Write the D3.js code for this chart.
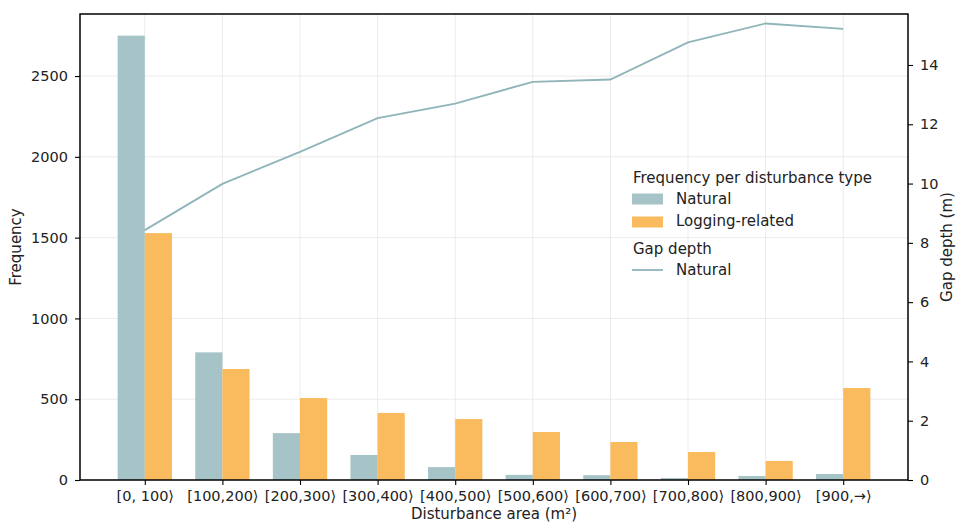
<!DOCTYPE html>
<html>
<head>
<meta charset="utf-8">
<script src="https://cdn.jsdelivr.net/npm/d3@7"></script>
<style>
  body { margin: 0; background: #fff; }
  svg text { font-family: "DejaVu Sans", sans-serif; fill: #222; }
</style>
</head>
<body>
<div id="chart"></div>
<script>
// area classes on the x axis
const categories = ["[0, 100⟩", "[100,200⟩", "[200,300⟩", "[300,400⟩", "[400,500⟩",
  "[500,600⟩", "[600,700⟩", "[700,800⟩", "[800,900⟩", "[900,→⟩"];
// frequency per disturbance type
const natural = [2750, 790, 290, 155, 80, 32, 30, 12, 25, 37];
const logging = [1528, 687, 507, 415, 377, 297, 235, 173, 118, 569];
// mean gap depth (m) of natural gaps
const gapDepth = [8.43, 9.99, 11.07, 12.21, 12.70, 13.43, 13.51, 14.76, 15.40, 15.22];
const freqTicks = [0, 500, 1000, 1500, 2000, 2500];
const depthTicks = [0, 2, 4, 6, 8, 10, 12, 14];

const W = 957, H = 523;
const margin = { top: 14, right: 49, bottom: 43, left: 80 };
const width = W - margin.left - margin.right;
const height = H - margin.top - margin.bottom;

const cNatural = "#a6c4c7", cLogging = "#f9bb5e", cLine = "#8fb5b9";
const fs = 15, tfs = 14.5;

const svg = d3.select("#chart").append("svg")
  .attr("width", W).attr("height", H);
const g = svg.append("g").attr("transform", `translate(${margin.left},${margin.top})`);

const bw = 0.35;
const x = d3.scaleLinear().domain([-0.835, 9.835]).range([0, width]);
const y = d3.scaleLinear().domain([0, 2884]).range([height, 0]);
const y2 = d3.scaleLinear().domain([0, 15.72]).range([height, 0]);

// grid
g.append("g").selectAll("line").data(freqTicks).join("line")
  .attr("x1", 0).attr("x2", width)
  .attr("y1", d => y(d)).attr("y2", d => y(d))
  .attr("stroke", "#e6e6e6").attr("stroke-width", 0.8);
g.append("g").selectAll("line").data(categories).join("line")
  .attr("x1", (d, i) => x(i)).attr("x2", (d, i) => x(i))
  .attr("y1", 0).attr("y2", height)
  .attr("stroke", "#e6e6e6").attr("stroke-width", 0.8);

// bars
g.append("g").selectAll("rect").data(natural).join("rect")
  .attr("x", (d, i) => x(i - bw)).attr("width", x(bw) - x(0))
  .attr("y", d => y(d)).attr("height", d => y(0) - y(d))
  .attr("fill", cNatural);
g.append("g").selectAll("rect").data(logging).join("rect")
  .attr("x", (d, i) => x(i)).attr("width", x(bw) - x(0))
  .attr("y", d => y(d)).attr("height", d => y(0) - y(d))
  .attr("fill", cLogging);

// line on the twin axis
g.append("path").datum(gapDepth)
  .attr("fill", "none").attr("stroke", cLine).attr("stroke-width", 1.8)
  .attr("d", d3.line().x((d, i) => x(i)).y(d => y2(d)));

// axes
const styleAxis = sel => {
  sel.select(".domain").remove();
  sel.selectAll(".tick line").attr("stroke", "#000").attr("stroke-width", 1.1);
  sel.selectAll(".tick text").attr("font-size", tfs).attr("fill", "#222")
    .attr("font-family", "DejaVu Sans, sans-serif");
};
g.append("g").attr("transform", `translate(0,${height})`)
  .call(d3.axisBottom(x).tickValues(d3.range(categories.length))
    .tickFormat(i => categories[i]).tickSize(5).tickPadding(6))
  .call(styleAxis);
g.append("g")
  .call(d3.axisLeft(y).tickValues(freqTicks).tickFormat(d3.format("d")).tickSize(5).tickPadding(7))
  .call(styleAxis);
g.append("g").attr("transform", `translate(${width},0)`)
  .call(d3.axisRight(y2).tickValues(depthTicks).tickSize(5).tickPadding(7))
  .call(styleAxis);

// frame
g.append("rect").attr("width", width).attr("height", height)
  .attr("fill", "none").attr("stroke", "#000").attr("stroke-width", 1.5);

// axis labels
svg.append("text").attr("x", margin.left + width / 2).attr("y", 519)
  .attr("text-anchor", "middle").attr("font-size", fs).text("Disturbance area (m²)");
svg.append("text").attr("transform", `translate(21,${margin.top + height / 2}) rotate(-90)`)
  .attr("text-anchor", "middle").attr("font-size", fs).text("Frequency");
svg.append("text").attr("transform", `translate(952,${margin.top + height / 2}) rotate(-90)`)
  .attr("text-anchor", "middle").attr("font-size", fs).text("Gap depth (m)");

// legend
const lg = svg.append("g").attr("transform", "translate(632,0)");
lg.append("text").attr("x", 1).attr("y", 183).attr("font-size", fs).text("Frequency per disturbance type");
[[cNatural, "Natural", 199, 204], [cLogging, "Logging-related", 222, 226]].forEach(([c, t, cy, by]) => {
  lg.append("rect").attr("x", 0).attr("y", cy - 5.5).attr("width", 31).attr("height", 11).attr("fill", c);
  lg.append("text").attr("x", 44).attr("y", by).attr("font-size", fs).text(t);
});
lg.append("text").attr("x", 1).attr("y", 254).attr("font-size", fs).text("Gap depth");
lg.append("line").attr("x1", 0).attr("x2", 31).attr("y1", 270).attr("y2", 270)
  .attr("stroke", cLine).attr("stroke-width", 1.8);
lg.append("text").attr("x", 44).attr("y", 275).attr("font-size", fs).text("Natural");
</script>
</body>
</html>
